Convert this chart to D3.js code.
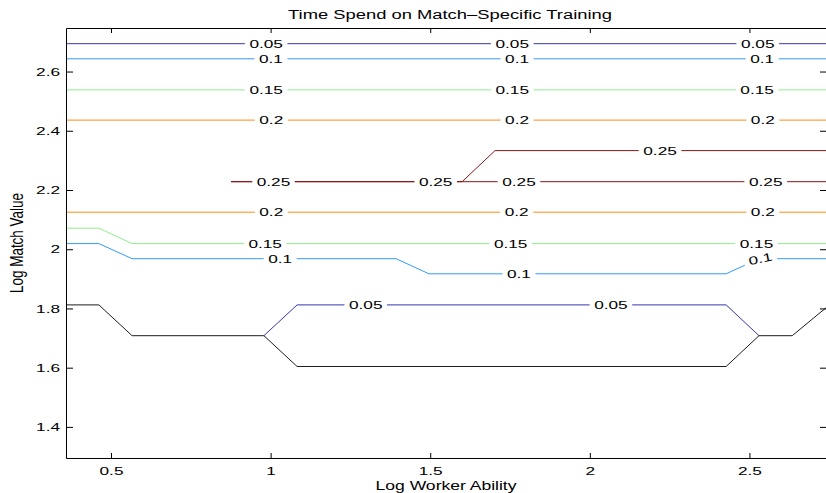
<!DOCTYPE html>
<html>
<head>
<meta charset="utf-8">
<script src="https://cdn.jsdelivr.net/npm/d3@7"></script>
<style>
html, body { margin: 0; padding: 0; background: #fff; }
svg { display: block; }
text { font-family: "Liberation Sans", Arial, Helvetica, sans-serif; fill: #000; }
</style>
</head>
<body>
<svg id="chart" width="826" height="493"></svg>
<script>
// contour levels + colours (level 0 is the unlabelled black line)
var LEVELS = [0, 0.05, 0.1, 0.15, 0.2, 0.25];
var LEVEL_COLORS = ["#1c1c1c", "#3434b0", "#3399ff", "#8cf08c", "#ff8a14", "#8c1616"];

var X_TICKS = [0.5, 1, 1.5, 2, 2.5];
var X_TICK_LABELS = ["0.5", "1", "1.5", "2", "2.5"];
var Y_TICKS = [1.4, 1.6, 1.8, 2, 2.2, 2.4, 2.6];
var Y_TICK_LABELS = ["1.4", "1.6", "1.8", "2", "2.2", "2.4", "2.6"];

// contour vertices (x = log worker ability, y = log match value), label positions on x
var c000_x = [0.359, 0.462, 0.566, 0.979, 1.083, 2.427, 2.530, 2.634, 2.743];
var c000_y = [1.812, 1.812, 1.708, 1.708, 1.604, 1.604, 1.708, 1.708, 1.805];

var c005a_x = [0.359, 2.743];
var c005a_y = [2.694, 2.694];
var c005a_lab = [0.986, 1.757, 2.526];

var c005b_x = [0.979, 1.083, 2.427, 2.530];
var c005b_y = [1.708, 1.812, 1.812, 1.708];
var c005b_lab = [1.298, 2.066];

var c010a_x = [0.359, 2.743];
var c010a_y = [2.643, 2.643];
var c010a_lab = [1.001, 1.772, 2.540];

var c010b_x = [0.359, 0.462, 0.566, 1.393, 1.496, 2.427, 2.530, 2.743];
var c010b_y = [2.019, 2.019, 1.968, 1.968, 1.917, 1.917, 1.968, 1.968];
var c010b_lab = [1.030, 1.778, 2.534];

var c015a_x = [0.359, 2.743];
var c015a_y = [2.538, 2.538];
var c015a_lab = [0.986, 1.757, 2.524];

var c015b_x = [0.359, 0.462, 0.566, 2.743];
var c015b_y = [2.071, 2.071, 2.019, 2.019];
var c015b_lab = [0.983, 1.752, 2.522];

var c020a_x = [0.359, 2.743];
var c020a_y = [2.436, 2.436];
var c020a_lab = [1.002, 1.772, 2.542];

var c020b_x = [0.359, 2.743];
var c020b_y = [2.125, 2.125];
var c020b_lab = [1.002, 1.771, 2.542];

var c025a_x = [0.876, 1.600, 1.703, 2.743];
var c025a_y = [2.228, 2.228, 2.333, 2.333];
var c025a_lab = [1.009, 1.517, 2.220];

var c025b_x = [0.876, 2.743];
var c025b_y = [2.228, 2.228];
var c025b_lab = [1.778, 2.551];

var CONTOURS = [
  { li: 1, xs: c005a_x, ys: c005a_y, labels: c005a_lab },
  { li: 1, xs: c005b_x, ys: c005b_y, labels: c005b_lab },
  { li: 2, xs: c010a_x, ys: c010a_y, labels: c010a_lab },
  { li: 2, xs: c010b_x, ys: c010b_y, labels: c010b_lab },
  { li: 3, xs: c015a_x, ys: c015a_y, labels: c015a_lab },
  { li: 3, xs: c015b_x, ys: c015b_y, labels: c015b_lab },
  { li: 4, xs: c020a_x, ys: c020a_y, labels: c020a_lab },
  { li: 4, xs: c020b_x, ys: c020b_y, labels: c020b_lab },
  { li: 5, xs: c025a_x, ys: c025a_y, labels: c025a_lab },
  { li: 5, xs: c025b_x, ys: c025b_y, labels: c025b_lab },
  { li: 0, xs: c000_x, ys: c000_y, labels: [] }
];

var W = 826, H = 493;
var PLOT = { left: 66, right: 827, top: 28, bottom: 458 };
var SX = 1.5;          // the reference text is stretched horizontally
var FONT = 11.5;

var svg = d3.select("#chart");
var defs = svg.append("defs");

var x = d3.scaleLinear().domain([0.359, 2.743]).range([PLOT.left, PLOT.right]);
var y = d3.scaleLinear().domain([1.295, 2.747]).range([PLOT.bottom, PLOT.top]);

defs.append("clipPath").attr("id", "plot-clip").append("rect")
  .attr("x", PLOT.left).attr("y", PLOT.top)
  .attr("width", PLOT.right - PLOT.left).attr("height", PLOT.bottom - PLOT.top);

// one mask per level, label gaps are cut out of it
var masks = LEVELS.map(function(l, i){
  var m = defs.append("mask").attr("id", "gap-" + i)
    .attr("maskUnits", "userSpaceOnUse")
    .attr("x", 0).attr("y", 0).attr("width", W).attr("height", H);
  m.append("rect").attr("width", W).attr("height", H).attr("fill", "#fff");
  return m;
});

var line = d3.line().x(function(d){ return x(d[0]); }).y(function(d){ return y(d[1]); });

var gLines = svg.append("g").attr("clip-path", "url(#plot-clip)");
var gLabels = svg.append("g");

function pxPoints(c){ return c.xs.map(function(v, i){ return [x(v), y(c.ys[i])]; }); }
function yAt(pts, px){
  if (px <= pts[0][0]) return pts[0][1];
  for (var i = 1; i < pts.length; i++){
    if (px <= pts[i][0]){
      var t = (px - pts[i-1][0]) / (pts[i][0] - pts[i-1][0]);
      return pts[i-1][1] + t * (pts[i][1] - pts[i-1][1]);
    }
  }
  return pts[pts.length-1][1];
}

CONTOURS.forEach(function(c){
  var data = c.xs.map(function(v, i){ return [v, c.ys[i]]; });
  gLines.append("g").attr("mask", "url(#gap-" + c.li + ")")
    .append("path").attr("d", line(data))
    .attr("fill", "none").attr("stroke", LEVEL_COLORS[c.li]).attr("stroke-width", 1);

  var pts = pxPoints(c);
  c.labels.forEach(function(lv){
    var cx = x(lv), cy = yAt(pts, cx);
    var t = gLabels.append("text").attr("text-anchor", "middle").attr("dy", "0.36em")
      .attr("font-size", FONT).text(String(LEVELS[c.li]));
    var half = t.node().getComputedTextLength() * SX / 2 + 4.5;
    var ang = Math.atan2(yAt(pts, cx + half) - yAt(pts, cx - half), 2 * half) * 180 / Math.PI;
    t.attr("transform", "translate(" + cx + "," + cy + ") rotate(" + ang + ") scale(" + SX + ",1)");
    masks[c.li].append("rect")
      .attr("x", -half).attr("y", -6).attr("width", 2 * half).attr("height", 12)
      .attr("fill", "#000")
      .attr("transform", "translate(" + cx + "," + cy + ") rotate(" + ang + ")");
  });
});

// axes (box with inward ticks)
function styleAxis(g){
  g.attr("font-family", null).attr("font-size", FONT);
  g.selectAll(".domain").attr("stroke", "#000");
  g.selectAll(".tick line").attr("stroke", "#000");
  g.selectAll(".tick text").attr("fill", "#000").attr("transform", "scale(" + SX + ",1)");
}
svg.append("g").attr("transform", "translate(0," + PLOT.bottom + ")")
  .call(d3.axisBottom(x).tickValues(X_TICKS).tickFormat(function(d, i){ return X_TICK_LABELS[i]; })
    .tickSizeInner(-5).tickSizeOuter(0).tickPadding(9))
  .call(styleAxis);
svg.append("g").attr("transform", "translate(0," + PLOT.top + ")")
  .call(d3.axisTop(x).tickValues(X_TICKS).tickFormat("").tickSizeInner(-5).tickSizeOuter(0))
  .call(styleAxis);
svg.append("g").attr("transform", "translate(" + PLOT.left + ",0)")
  .call(d3.axisLeft(y).tickValues(Y_TICKS).tickFormat(function(d, i){ return Y_TICK_LABELS[i]; })
    .tickSizeInner(-7).tickSizeOuter(0).tickPadding(4))
  .call(styleAxis);
svg.append("g").attr("transform", "translate(" + PLOT.right + ",0)")
  .call(d3.axisRight(y).tickValues(Y_TICKS).tickFormat("").tickSizeInner(-7).tickSizeOuter(0))
  .call(styleAxis);

// titles
svg.append("text").attr("text-anchor", "middle").attr("font-size", 12.5)
  .attr("transform", "translate(450,19) scale(1.47,1)")
  .text("Time Spend on Match\u2013Specific Training");
svg.append("text").attr("text-anchor", "middle").attr("font-size", 13.5)
  .attr("transform", "translate(446,489.5) scale(1.3,1)")
  .text("Log Worker Ability");
svg.append("text").attr("text-anchor", "middle").attr("font-size", 13.5)
  .attr("transform", "translate(22.7,243) scale(1.3,1) rotate(-90)")
  .text("Log Match Value");
</script>
</body>
</html>
